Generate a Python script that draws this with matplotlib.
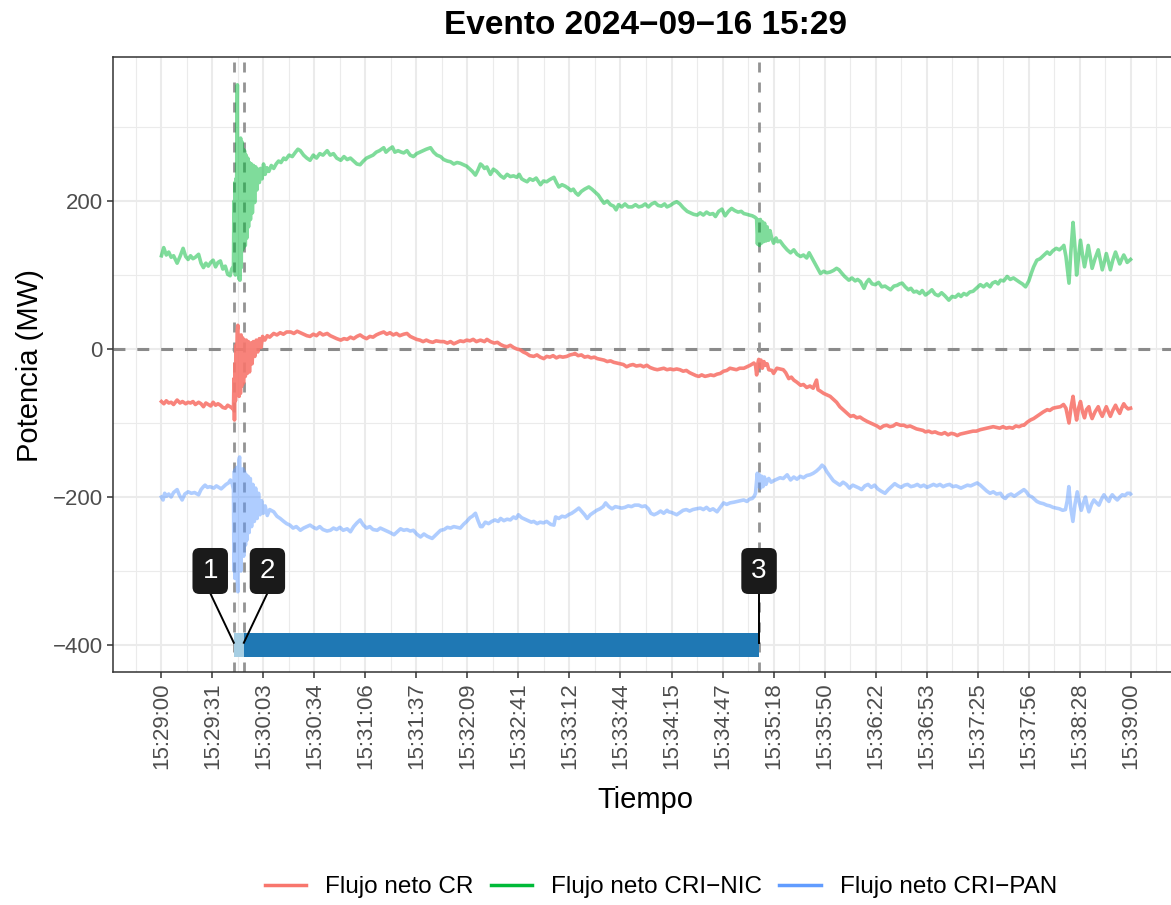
import matplotlib
matplotlib.use("Agg")
from matplotlib import pyplot as plt
from matplotlib.lines import Line2D
import numpy as np

"""
Evento 2024-09-16 15:29 - flujos netos (segundos desde 15:29:00, MW)
"""

plt.rcParams['font.family'] = ['Liberation Sans', 'DejaVu Sans']

# Flujo neto CR (t [s], MW)
cr = [
    (0, -71), (1.5, -74), (3, -70), (4.5, -73), (6, -72), (7.5, -75), (9.7, -69), (11.5, -73),
    (13, -71), (15, -74), (16.5, -72), (18, -73), (19.5, -71), (21, -75), (23, -72), (24.5, -74),
    (26, -78), (27.5, -73), (29, -75), (30.5, -77), (32, -72), (33.5, -76), (35, -74), (36.5, -76),
    (38, -79), (39.6, -80), (41, -76), (42.5, -78), (43.8, -80), (44.6, -82),
    (44.9, -40), (45.2, -96), (45.5, -20), (45.8, -70), (46.1, 5), (46.5, -45), (46.9, 25),
    (47.3, 32), (47.7, -20), (48.1, -64), (48.5, 10), (48.9, -60), (49.3, 19), (49.8, -50),
    (50.3, 15), (50.8, -46), (51.3, 12), (51.9, -37), (52.5, 12), (53.1, -33), (53.8, 10),
    (54.5, -31), (55.3, 8), (56.1, -20), (56.9, 10), (57.8, -10), (58.7, 12), (59.6, -4),
    (60.6, 14), (61.6, 2), (62.6, 17), (64, 12), (65.5, 18), (67, 16), (69.5, 21), (71.5, 19),
    (73.5, 22), (75.5, 20), (77.5, 23), (80, 23), (82, 21), (84, 24), (86, 22), (88, 20),
    (90, 18), (92, 17), (94, 20), (96, 18), (98, 22), (100, 19), (102.6, 21), (104.5, 18),
    (106.5, 16), (108.5, 14), (111, 12), (113, 14), (115, 13), (117, 16), (119, 14), (121, 17),
    (123, 19), (125, 16), (127, 14), (129, 17), (131, 16), (133, 19), (135, 21), (137.6, 23),
    (139.5, 20), (141.5, 22), (143.5, 19), (145.5, 21), (147.5, 18), (150, 20), (152, 21),
    (154, 17), (156, 15), (158, 13), (160, 12), (162, 10), (164, 12), (166, 10), (168, 9),
    (170, 11), (172.8, 10), (174.8, 10), (177, 8), (179, 10), (181, 7), (183, 9), (185, 11),
    (187, 10), (189, 12), (191, 11), (193, 13), (195, 10), (197.5, 12), (200, 10), (201.5, 13),
    (203.7, 10), (206, 8), (208, 9), (210, 6), (212, 4), (214, 3), (216, 5), (218, 2), (220, 0),
    (222, -1), (224, -4), (226, -6), (228, -9), (230.5, -10), (232.5, -8), (234.5, -11),
    (236.7, -13), (238.5, -10), (240.5, -11), (242.5, -9), (244.5, -12), (246.5, -10),
    (248.5, -11), (251, -10), (253, -8), (255, -7), (256, -6), (258, -9), (260, -8), (262, -11),
    (264, -10), (266, -12), (268, -11), (269.8, -13), (272, -14), (274, -15), (276, -17),
    (278, -16), (280, -18), (282, -19), (284, -20), (286, -21), (288, -24), (290, -22),
    (292, -21), (294, -23), (296.6, -22), (298.5, -24), (300.5, -22), (302.5, -25), (305, -27),
    (307, -28), (309, -27), (311, -26), (313, -28), (315, -27), (317, -28), (319, -27),
    (321, -28), (323, -30), (325, -29), (327, -32), (329, -34), (331, -36), (332.7, -37),
    (334.5, -35), (336.5, -37), (338.5, -36), (340, -35), (342, -36), (344, -34), (346, -33),
    (348, -30), (350, -29), (352, -26), (354, -27), (356, -28), (358, -26), (360.6, -26),
    (362.5, -24), (364.5, -22), (366.8, -19), (367.8, -22), (368.5, -35), (369.2, -20),
    (369.8, -14), (370.5, -24), (371.2, -15), (372, -26), (373, -17), (374, -22), (375, -20),
    (376, -28), (378, -29), (379, -33), (381, -26), (383, -27), (385, -28), (386.5, -32),
    (388.4, -40), (390, -38), (391.5, -42), (393.5, -45), (395.7, -49), (397.5, -48),
    (399.5, -52), (401.5, -50), (403.5, -53), (405.6, -42), (406.5, -55), (408, -57),
    (410, -60), (412, -62), (414, -64), (416, -68), (418, -72), (420, -78), (422, -82),
    (424, -86), (426.6, -91), (428.5, -90), (430.5, -93), (432.5, -92), (434.5, -95),
    (437, -98), (439, -100), (441, -102), (443, -104), (445, -107), (447, -104), (449, -103),
    (451, -105), (453, -104), (455, -101), (457.5, -103), (459.6, -103), (461.5, -105),
    (463.5, -104), (465.5, -106), (467.5, -108), (469.5, -109), (471.5, -110), (473, -112),
    (475, -111), (477, -113), (479, -112), (481, -114), (483, -115), (485, -113), (487, -116),
    (489, -114), (491, -115), (492.7, -117), (494.5, -115), (496.5, -114), (498.5, -113),
    (500.5, -112), (502.5, -111), (504.5, -111), (507, -109), (509, -108), (511, -107),
    (513, -106), (515, -105), (517, -106), (519, -107), (521, -105), (523, -107), (525, -106),
    (527, -107), (529, -104), (531, -105), (533, -103), (534, -103), (536, -99), (538, -96),
    (540, -94), (542, -91), (544, -88), (546, -85), (548.4, -82), (550, -83), (552, -80),
    (554, -79), (556.6, -78), (558.5, -75), (560, -80), (561.9, -100), (563.2, -78),
    (564.4, -64), (565.5, -82), (566.6, -96), (567.8, -80), (569, -71), (570.3, -85),
    (571.5, -93), (572.7, -82), (574.2, -78), (575.2, -88), (576.2, -94), (578, -85),
    (580, -78), (581.3, -86), (582.5, -91), (583.8, -84), (585, -78), (586.3, -85),
    (587.5, -91), (589, -83), (590.7, -76), (592, -82), (593.3, -87), (594.5, -80),
    (595.8, -74), (597, -78), (598.5, -81), (600, -80),
]

# Flujo neto CRI-NIC (t [s], MW)
cri_nic = [
    (0, 126), (1.4, 137), (3, 127), (4.5, 131), (6, 124), (7.5, 126), (9.7, 116), (11.5, 125),
    (13.4, 136), (15, 125), (16.5, 121), (18, 126), (19.5, 122), (21, 124), (23, 128),
    (24.5, 116), (26, 110), (27.5, 116), (29, 112), (30.5, 117), (32, 120), (33.5, 111),
    (35, 117), (36.5, 119), (38, 108), (39.5, 112), (41, 101), (42.5, 99), (43.5, 108),
    (44.6, 112), (44.9, 200), (45.2, 110), (45.5, 225), (45.8, 100), (46.1, 230), (46.4, 105),
    (46.7, 300), (47.0, 357), (47.3, 120), (47.6, 250), (47.9, 95), (48.2, 240), (48.6, 93),
    (49.0, 285), (49.4, 110), (49.8, 280), (50.2, 134), (50.6, 270), (51.0, 138), (51.4, 268),
    (51.9, 140), (52.4, 262), (52.9, 150), (53.4, 258), (53.9, 165), (54.5, 252), (55.1, 175),
    (55.7, 250), (56.3, 184), (57.0, 248), (57.7, 198), (58.4, 246), (59.1, 215), (59.8, 243),
    (60.6, 225), (61.4, 244), (62.3, 230), (63.2, 250), (64.2, 236), (65.3, 245), (66.5, 240),
    (68, 248), (69.5, 244), (71, 250), (72.5, 254), (74, 252), (75.7, 258), (77, 256),
    (79, 262), (81, 260), (83, 266), (84.5, 270), (86, 268), (88, 262), (90, 258), (92, 255),
    (94, 262), (96, 258), (98, 264), (100, 262), (102.6, 268), (104.5, 262), (106.5, 264),
    (108.5, 258), (111, 255), (113, 260), (115, 256), (117, 258), (119, 254), (121, 250),
    (123, 249), (125, 254), (127, 258), (129, 260), (131, 262), (133, 266), (135, 268),
    (137.6, 272), (139, 266), (141, 270), (143, 273), (144.5, 266), (146.5, 268), (148.5, 266),
    (150, 265), (152, 268), (154, 262), (156, 260), (158, 264), (160, 266), (162, 268),
    (164, 270), (166.6, 272), (168.5, 266), (170.5, 262), (172.8, 260), (174.8, 256),
    (177, 254), (179, 253), (181, 250), (183, 252), (185, 251), (187, 249), (189, 247),
    (190.5, 244), (192.5, 240), (194.4, 235), (196, 242), (197.5, 250), (198.6, 248),
    (200, 244), (201.5, 246), (203.7, 236), (205.5, 243), (207.5, 240), (210, 234), (212, 231),
    (214, 236), (216, 233), (218, 234), (220, 232), (221.5, 236), (223, 230), (224.5, 228),
    (226.4, 226), (228, 230), (230, 228), (232, 231), (234.7, 222), (236.5, 227), (238.5, 226),
    (240.5, 229), (243, 232), (244.5, 225), (246, 219), (248, 222), (250, 220), (252, 217),
    (253.5, 214), (255, 216), (256.5, 211), (258, 208), (260, 213), (262, 216), (264.6, 219),
    (266.5, 216), (268.5, 212), (270.5, 208), (272, 203), (274, 197), (276, 200), (278, 195),
    (280, 193), (281.5, 188), (283, 195), (285, 192), (287, 196), (289, 192), (291.4, 192),
    (293.5, 195), (295.5, 192), (297.5, 193), (299.5, 196), (301.5, 192), (303.5, 196),
    (305.5, 198), (307.5, 194), (309.5, 193), (311.5, 196), (313, 192), (315, 194), (317, 197),
    (319, 199), (321, 196), (323, 191), (325.5, 186), (327.5, 184), (329.5, 182), (331.7, 181),
    (333.5, 184), (335.5, 181), (337.5, 185), (339.5, 182), (341.5, 183), (343, 179),
    (345, 186), (347, 189), (349, 180), (351, 186), (353, 190), (355, 187), (357, 185),
    (359, 186), (360.6, 183), (362.5, 182), (364, 181), (365.8, 180), (367.5, 178),
    (368.5, 176), (369.0, 142), (369.6, 174), (370.2, 140), (370.8, 175), (371.4, 143),
    (372.0, 172), (372.7, 145), (373.4, 170), (374.2, 146), (375.0, 165), (375.9, 147),
    (376.8, 160), (377.8, 150), (379, 143), (380.5, 150), (381.5, 145), (383, 146), (385, 140),
    (387.4, 134), (389.5, 130), (391.5, 134), (393.5, 128), (395.7, 125), (397.5, 127),
    (399.5, 123), (401, 130), (402.5, 124), (404, 118), (406, 110), (408, 102), (410, 105),
    (412, 103), (414, 104), (416, 106), (418, 109), (419.5, 107), (421, 103), (423, 98),
    (425.6, 93), (427.5, 96), (429.5, 92), (431, 94), (432.8, 91), (435, 82), (436.5, 90),
    (438, 94), (440, 88), (442, 87), (444, 90), (446, 84), (448, 85), (450, 82), (451.4, 80),
    (453.5, 85), (455.5, 86), (457, 88), (458.6, 89), (460.5, 84), (462.5, 80), (464, 82),
    (465.8, 77), (467.5, 78), (469.5, 75), (471, 79), (473, 73), (475, 76), (477, 80),
    (479, 74), (481, 72), (483, 76), (485, 72), (487.5, 66), (489.5, 71), (491.5, 70),
    (493.5, 74), (495, 71), (496.8, 75), (498.5, 73), (500.5, 77), (502.5, 78), (504.5, 82),
    (507, 87), (509, 84), (511, 88), (513, 84), (514.5, 89), (516.4, 91), (518, 88),
    (519.5, 93), (521.5, 92), (523.6, 98), (525.5, 94), (527.5, 96), (529.5, 93), (531.5, 90),
    (533, 88), (535, 84), (537, 92), (538.5, 102), (540, 111), (542, 120), (544, 122),
    (546, 126), (548.4, 131), (550, 128), (552, 133), (554, 136), (556, 134), (558, 138),
    (558.7, 140), (560, 125), (561.9, 89), (563, 130), (564.4, 171), (565.5, 140),
    (566.6, 100), (567.8, 125), (569, 147), (570.2, 128), (571.5, 111), (572.7, 125),
    (573.8, 140), (575, 125), (576.2, 109), (578, 122), (580, 134), (581.3, 120), (582.5, 107),
    (583.8, 118), (585, 129), (586.3, 118), (587.5, 107), (589, 120), (590.7, 131), (592, 123),
    (593.3, 115), (594.5, 121), (595.8, 127), (597, 122), (597.9, 117), (599, 119), (600, 121),
]

# Flujo neto CRI-PAN (t [s], MW)
cri_pan = [
    (0, -200), (1, -204), (2, -195), (3.2, -199), (4.5, -196), (6, -200), (7.5, -194),
    (9.7, -190), (11, -197), (12.8, -204), (14.5, -196), (16.5, -193), (18.5, -195),
    (20.5, -194), (23, -197), (24.5, -190), (26, -186), (27, -184), (28.5, -187), (30, -186),
    (32.4, -188), (34, -185), (35.5, -187), (37, -189), (38.5, -186), (40, -183), (41.5, -181),
    (42.7, -177), (43.8, -182), (44.6, -190), (44.9, -300), (45.2, -165), (45.5, -310),
    (45.8, -163), (46.2, -290), (46.6, -160), (47.0, -315), (47.3, -328), (47.7, -190),
    (48.0, -150), (48.4, -146), (48.8, -200), (49.2, -300), (49.6, -165), (50.0, -263),
    (50.4, -162), (50.9, -280), (51.4, -166), (52.0, -265), (52.5, -170), (53.0, -258),
    (53.6, -172), (54.3, -248), (55.0, -175), (55.8, -240), (56.6, -183), (57.5, -233),
    (58.3, -188), (59.2, -229), (60.1, -195), (61.0, -224), (62, -205), (63, -222),
    (64.2, -212), (65.5, -225), (67, -217), (69.5, -220), (71.5, -226), (73.5, -229),
    (75.7, -233), (77.5, -236), (79.5, -238), (81.5, -242), (83.5, -240), (86, -245),
    (88, -242), (90, -240), (92, -238), (94, -241), (96, -243), (98, -240), (100, -244),
    (102.5, -246), (104.6, -245), (106.5, -242), (108.5, -244), (110.5, -241), (112.5, -245),
    (115, -243), (117, -247), (119, -240), (121, -235), (123, -231), (125, -238), (127, -242),
    (129, -240), (131, -244), (133.6, -245), (135.5, -242), (137.5, -244), (139.5, -246),
    (141.5, -248), (144, -251), (146, -247), (148, -243), (150, -245), (152, -244), (154, -246),
    (156, -245), (158, -250), (160.4, -254), (162.5, -250), (164.5, -253), (167.6, -256),
    (169.5, -252), (171, -249), (172.8, -245), (175, -244), (177, -241), (179, -242),
    (181, -240), (183, -241), (185, -242), (187, -237), (189, -233), (191, -228),
    (192.5, -226), (194.4, -222), (196, -232), (197.5, -240), (198.6, -240), (200.5, -234),
    (202.5, -236), (204.5, -233), (206.5, -231), (208.5, -233), (210, -229), (212, -232),
    (214, -230), (216, -231), (218, -227), (219.5, -229), (221, -224), (223, -228), (225, -230),
    (227, -232), (229, -234), (230.5, -233), (232.6, -236), (234.5, -234), (236.5, -235),
    (238.5, -233), (241, -237), (243, -238), (244, -227), (246, -229), (248, -226), (250, -227),
    (252, -224), (254, -222), (256, -219), (258.4, -215), (260, -219), (262, -224),
    (263.6, -229), (265.5, -224), (267.5, -221), (269.5, -218), (271.5, -216), (273.5, -213),
    (275, -208), (277, -213), (279, -216), (281, -213), (283, -214), (285, -215), (287, -214),
    (289, -212), (291, -213), (293, -211), (295.5, -211), (297.5, -213), (299.5, -212),
    (301.5, -216), (303, -222), (305, -224), (307, -222), (309, -219), (311, -222), (313, -218),
    (314, -220), (316, -221), (318, -223), (319, -224), (321, -221), (323, -218), (325, -217),
    (327, -219), (329, -217), (331, -216), (333.7, -215), (335.5, -217), (337.5, -214),
    (339.5, -218), (341.5, -216), (344, -220), (346, -214), (348, -208), (350, -210),
    (352, -208), (354.5, -207), (356.5, -206), (358.5, -205), (360.5, -204), (362.5, -206),
    (364, -203), (365.8, -202), (367, -199), (367.8, -195), (368.9, -168), (369.6, -185),
    (370.2, -170), (370.9, -188), (371.6, -172), (372.4, -186), (373.3, -173), (374.3, -183),
    (375.3, -177), (376, -175), (377.5, -180), (379, -178), (381, -176), (383, -174),
    (385, -175), (387.4, -170), (389.5, -177), (391.5, -173), (393.5, -176), (395.5, -172),
    (397.5, -174), (399.5, -171), (401.5, -170), (403.5, -168), (405.5, -165), (407.5, -161),
    (409, -157), (410.5, -160), (412, -166), (414, -172), (416, -178), (418, -181), (420, -184),
    (422, -180), (424, -183), (426, -188), (428, -184), (430, -186), (432, -188),
    (433.5, -190), (435.5, -185), (437.5, -183), (439.5, -187), (441.5, -184), (443.5, -189),
    (445.5, -192), (448, -195), (450, -190), (452, -186), (454, -182), (456, -185), (458, -187),
    (460, -184), (462, -183), (464, -186), (466, -185), (468, -183), (470, -186), (472, -184),
    (474, -187), (476, -185), (478, -183), (480, -185), (482, -183), (484, -186), (486, -184),
    (488, -183), (490, -186), (492, -185), (495, -188), (497, -186), (499, -184), (501, -185),
    (503, -183), (505, -181), (507, -184), (509, -188), (511, -192), (513, -195), (515, -193),
    (517, -196), (519.5, -195), (521, -200), (522.5, -202), (524, -198), (526, -196),
    (528, -199), (530, -196), (532, -193), (534, -190), (535.5, -193), (537, -198), (539, -200),
    (540.5, -203), (542, -206), (544, -208), (546, -209), (548, -211), (550, -212), (552, -214),
    (554, -215), (556, -216), (558, -218), (559.7, -217), (560.8, -205), (561.8, -186),
    (563, -215), (564.3, -233), (565.6, -210), (567, -193), (568.3, -208), (569.5, -218),
    (570.8, -208), (572.1, -200), (573.2, -212), (574.2, -220), (575.8, -210), (577.3, -204),
    (579, -208), (580.4, -211), (582, -203), (583.5, -197), (585, -202), (586.6, -206),
    (587.7, -200), (588.7, -197), (590.3, -201), (591.8, -204), (593.4, -200), (594.9, -197),
    (596.5, -198), (598, -195), (599.6, -195), (600, -196),
]

series_names = ["Flujo neto CR", "Flujo neto CRI\u2212NIC", "Flujo neto CRI\u2212PAN"]
series_colors = ["#F8766D", "#00BA38", "#619CFF"]
series_alpha = [0.9, 0.5, 0.5]

# Eventos (s desde 15:29:00)
event_t = [44.8, 51.0, 370.0]
event_labels = ["1", "2", "3"]
segment_colors = ["#A6CEE3", "#1F78B4"]
bar_level = -400

x_ticks = np.linspace(0, 600, 20)
x_tick_labels = ["15:29:00", "15:29:31", "15:30:03", "15:30:34", "15:31:06", "15:31:37",
                 "15:32:09", "15:32:41", "15:33:12", "15:33:44", "15:34:15", "15:34:47",
                 "15:35:18", "15:35:50", "15:36:22", "15:36:53", "15:37:25", "15:37:56",
                 "15:38:28", "15:39:00"]
y_ticks = [-400, -200, 0, 200]
y_tick_labels = ["\u2212400", "\u2212200", "0", "200"]

W, H = 1171, 905
fig = plt.figure(figsize=(W / 100, H / 100), dpi=100)
ax = fig.add_axes([113 / W, 1 - 672 / H, 1066 / W, 615 / H])

# Lineas de referencia
ax.axhline(0, color="#8A8A8A", lw=2.2, dashes=(3.9, 3.9), zorder=1)
for t in event_t:
    ax.axvline(t, color="#939393", lw=2.0, dashes=(3.6, 3.6), zorder=1)

# Series
for data, name, col, a in zip([cr, cri_nic, cri_pan], series_names, series_colors, series_alpha):
    arr = np.array(data)
    ax.plot(arr[:, 0], arr[:, 1], color=col, alpha=a, lw=2.6, zorder=2,
            solid_joinstyle="round")

# Barra de etapas
bar_h = 32
for i, col in enumerate(segment_colors):
    ax.broken_barh([(event_t[i], event_t[i + 1] - event_t[i])], (bar_level - bar_h / 2, bar_h),
                   facecolors=col, zorder=3)

# Etiquetas de eventos
label_dx = [-14.6, 14.6, 0]
label_y = -300
for t, lab, dx in zip(event_t, event_labels, label_dx):
    ax.plot([t + dx, t], [label_y - 30, bar_level + 3], color="black", lw=1.4, zorder=4)
    ax.text(t + dx, label_y, lab, color="white", fontsize=20, ha="center", va="center",
            zorder=5, bbox=dict(boxstyle="round,pad=0.36,rounding_size=0.25",
                                fc="#1A1A1A", ec="none"))

# Ejes
ax.set_xlim(-30, 630)
ax.set_ylim(-436.5, 394.6)
ax.set_xticks(x_ticks)
ax.set_xticklabels(x_tick_labels, rotation=90)
minor_x = np.concatenate([[-x_ticks[1] / 2], (x_ticks[:-1] + x_ticks[1:]) / 2,
                          [x_ticks[-1] + x_ticks[1] / 2]])
ax.set_xticks(minor_x, minor=True)
ax.set_yticks(y_ticks)
ax.set_yticklabels(y_tick_labels)
ax.set_yticks([-300, -100, 100, 300], minor=True)

ax.grid(which="major", color="#EBEBEB", lw=1.5, zorder=0)
ax.grid(which="minor", color="#EBEBEB", lw=0.8, zorder=0)
ax.set_axisbelow(True)

for s in ax.spines.values():
    s.set_color("#333333")
    s.set_linewidth(1.1)
ax.tick_params(which="major", direction="out", length=4.3, width=1.1, color="#333333",
               labelcolor="#4D4D4D", labelsize=16, pad=3)
ax.tick_params(which="minor", length=0)

ax.set_xlabel("Tiempo", fontsize=21)
ax.xaxis.set_label_coords(0.499, -0.208)
ax.xaxis.label.set_va("center")
ax.set_ylabel("Potencia (MW)", fontsize=21)
ax.yaxis.set_label_coords(-0.078, 0.499)
ax.yaxis.label.set_va("center")

fig.text(646 / W, 1 - 25 / H, "Evento 2024\u221209\u221216 15:29", ha="center", va="center",
         fontsize=24, fontweight="bold")

handles = [Line2D([], [], color=c, lw=2.5) for c in series_colors]
fig.legend(handles, series_names, loc="center", bbox_to_anchor=(661 / W, 1 - 887 / H),
           ncol=3, frameon=False, fontsize=17.5, handlelength=1.7, handletextpad=0.8,
           columnspacing=0.7)

fig.savefig("out.png", dpi=100)
